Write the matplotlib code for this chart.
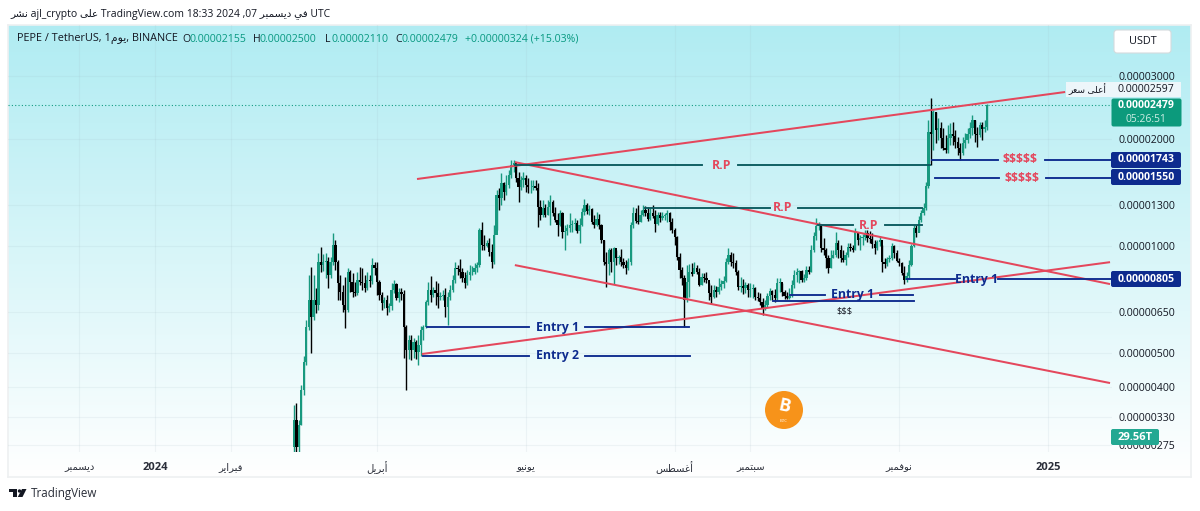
import numpy as np
import matplotlib
matplotlib.use("Agg")
import matplotlib.pyplot as plt
from matplotlib.patches import FancyBboxPatch, Circle, Polygon, Rectangle

FONT = ['Open Sans', 'DejaVu Sans']
plt.rcParams['font.family'] = FONT

# ---------- data: prices are in units of 0.00000001, time in days from 2024-01-01 ----------
first_day = 57
first_open = 271
closes = [323,271,313,392,471,590,703,630,703,681,
 899,882,899,905,827,899,1004,899,785,741,
 681,659,843,790,741,736,800,790,785,760,
 800,795,882,865,790,727,690,703,667,675,
 750,780,712,741,731,590,508,543,508,536,
 501,525,579,590,694,750,727,750,736,717,
 722,727,672,717,750,800,865,859,843,811,
 785,827,843,843,865,882,1106,1004,997,1017,
 959,899,1071,1390,1363,1501,1417,1482,1580,1684,
 1706,1550,1463,1530,1550,1482,1463,1463,1473,1454,
 1285,1221,1277,1221,1285,1328,1237,1182,1145,1237,
 1095,1102,1123,1145,1152,1160,1102,1145,1245,1302,
 1253,1269,1167,1145,1190,1145,1037,899,888,972,
 899,985,923,929,899,882,865,899,1145,1237,
 1175,1167,1221,1261,1237,1190,1237,1213,1152,1221,
 1197,1213,1221,1237,1167,1109,1060,929,854,811,
 703,790,843,832,865,843,775,816,811,800,
 736,717,750,741,765,780,795,899,941,899,
 893,843,765,770,760,775,750,755,760,717,
 712,694,667,681,722,745,727,712,785,790,
 741,722,712,722,775,827,843,848,800,811,
 854,843,972,1067,1138,1145,985,972,923,865,
 923,941,1017,972,923,911,941,991,985,972,
 1095,1037,1051,1060,1088,1051,1044,1010,985,1024,
 1037,899,888,917,923,997,953,905,893,837,
 800,821,882,997,1123,1088,1182,1237,1277,1473,
 2090,2063,2378,2117,2145,2008,1883,1859,2008,2063,
 2037,1957,1883,1823,1944,1982,2063,2145,2258,2063,
 2050,2186,2131,2155,2479]
highs = [356,361,323,406,491,618,827,871,827,760,
 953,991,947,953,929,929,1088,1037,911,827,
 775,816,865,854,837,790,843,871,865,827,
 843,827,923,899,899,800,741,717,727,690,
 785,800,785,760,760,750,598,561,561,550,
 543,561,594,598,703,790,821,765,795,785,
 741,750,760,741,775,827,899,882,917,865,
 843,854,882,876,893,899,1123,1165,1071,1037,
 1051,1010,1143,1435,1454,1600,1511,1580,1631,1741,
 1741,1706,1611,1570,1611,1580,1550,1530,1530,1530,
 1501,1345,1345,1310,1345,1390,1345,1285,1237,1261,
 1245,1145,1152,1237,1182,1197,1182,1197,1277,1352,
 1319,1302,1277,1221,1245,1229,1152,1037,959,985,
 985,991,972,941,978,923,911,923,1167,1285,
 1277,1302,1261,1302,1294,1285,1277,1302,1261,1245,
 1245,1245,1237,1261,1245,1197,1123,1067,953,871,
 827,882,888,893,899,882,865,837,837,843,
 785,775,775,770,811,800,821,923,985,959,
 953,911,854,816,805,790,785,785,780,765,
 741,736,712,703,736,760,750,755,811,811,
 785,750,741,760,800,854,865,854,854,832,
 876,876,1004,1095,1197,1167,1152,1051,985,941,
 972,972,1095,1037,1004,972,959,1017,1017,1004,
 1123,1095,1071,1081,1106,1106,1102,1088,1037,1037,
 1067,1004,923,929,941,1017,1004,972,923,899,
 876,843,911,1010,1143,1143,1213,1261,1319,1511,
 2258,2597,2408,2378,2288,2229,2145,2050,2186,2215,
 2229,2117,2024,1944,2024,2077,2145,2229,2332,2258,
 2159,2229,2229,2258,2500]
lows = [263,263,263,313,380,461,579,498,618,647,
 659,843,848,811,760,811,882,854,703,703,
 651,586,651,741,717,722,727,775,750,741,
 750,765,780,827,727,703,659,667,638,651,
 659,736,703,694,703,484,392,481,477,484,
 481,461,491,543,586,681,694,717,681,667,
 703,703,630,598,703,741,785,827,811,790,
 760,775,800,827,832,843,871,972,972,991,
 935,865,888,1106,1261,1302,1345,1390,1454,1550,
 1611,1511,1328,1435,1463,1417,1408,1408,1435,1435,
 1130,1182,1205,1205,1221,1145,1213,1167,1067,1138,
 1053,972,1074,1095,1095,1109,1088,1017,1138,1221,
 1229,1221,1152,1123,1138,1116,1017,882,765,827,
 843,780,882,888,876,865,832,854,882,1123,
 1160,1152,1167,1213,1213,1175,1182,1197,1095,1145,
 1167,1182,1182,1167,1109,1088,1004,911,811,775,
 590,694,717,821,837,832,770,775,790,785,
 703,685,712,717,731,750,760,790,888,876,
 865,827,750,741,731,736,717,717,712,703,
 699,681,638,659,672,703,703,694,703,741,
 722,708,708,708,717,760,790,785,790,790,
 800,832,843,959,1037,1109,959,941,865,837,
 865,923,929,923,899,899,882,929,966,959,
 972,1004,972,1004,1037,1024,1017,985,947,972,
 997,843,865,876,899,911,923,899,876,827,
 780,790,811,876,991,1060,1095,1167,1221,1261,
 1454,1684,1859,1944,1982,1883,1859,1823,1823,1920,
 1920,1883,1800,1743,1800,1883,1944,2008,2050,1957,
 1895,2024,1982,2090,2110]

price_ticks = [3000, 2000, 1300, 1000, 650, 500, 400, 330, 275]
time_ticks = [-31, 0, 31, 91, 152, 213, 244, 305, 366]
# Arabic is given in shaped presentation forms, visual order
DEC = "\uFEAE\uFE92\uFEE4\uFEB4\uFEF3\uFEA9"
FEB = "\uFEAE\uFEF3\uFE8D\uFEAE\uFE92\uFED3"
APR = "\uFEDE\uFEF3\uFEAE\uFE91\uFE83"
JUN = "\uFEEE\uFEF4\uFEE7\uFEEE\uFEF3"
AUG = "\uFEB2\uFEC4\uFEB4\uFECF\uFE83"
SEP = "\uFEAE\uFE92\uFEE4\uFE98\uFE92\uFEB3"
NOV = "\uFEAE\uFE92\uFEE4\uFED3\uFEEE\uFEE7"
DAY = "\uFEE1\uFEEE\uFEF3"
HIGHEST = "\uFEAE\uFECC\uFEB3 \uFEF0\uFEE0\uFECB\uFE83"
PUB = "\uFEAE\uFEB8\uFEE7"
ON = "\uFEF0\uFEE0\uFECB"
IN = "\uFEF2\uFED3"
time_labels = [DEC, "2024", FEB, APR, JUN, AUG, SEP, NOV, "2025"]

# trend lines: (day, price) end points
trend_days = [[107.4, 373.0], [147.5, 391.4], [147.5, 391.4], [109.4, 391.4]]
trend_prices = [[1540, 2705], [1718, 780], [882, 411], [496, 899]]
# horizontal levels: price, then segments (days) left and right of the label
rp_prices = [1684, 1277, 1143]
rp_days = [[147.5, 224.2, 238.9, 317.6], [200.8, 252.0, 263.5, 314.3], [271.7, 286.1, 299.2, 314.3]]
rp_label_days = [232.4, 257.4, 292.6]
entry_prices = [590, 491, 727, 805, 1743, 1550]
entry_days = [[111.5, 153.3, 176.2, 218.9], [109.8, 153.3, 176.2, 219.3], [260.2, 274.6, 297.1, 310.7],
              [308.2, 327.9, 345.5, 392.0], [318.4, 345.5, 364.8, 392.0], [319.7, 345.9, 365.2, 392.0]]
entry_labels = ["Entry 1", "Entry 2", "Entry 1", "Entry 1", "$$$$$", "$$$$$"]
entry_label_days = [164.8, 164.8, 285.7, 336.5, 354.5, 355.3]
second_price = 699
second_days = [253.3, 311.1]
last_close = 2479

RED = '#e4475c'
NAVY = '#0d2b8e'
RPC = '#0a5a5e'
UP = '#18997f'
DOWN = '#000000'
W, H = 1200, 511

fig = plt.figure(figsize=(W / 100, H / 100), dpi=100, facecolor='white')

# gradient pane
bg = fig.add_axes([8 / W, 1 - 477 / H, (1191 - 8) / W, (477 - 25) / H])
grad = np.linspace(0, 1, 256)[:, None]
c_top = np.array([0.69, 0.925, 0.95])
c_bot = np.array([1.0, 1.0, 1.0])
bg.imshow((c_top + (c_bot - c_top) * grad)[:, None, :].reshape(256, 1, 3), aspect='auto')
bg.set_xticks([]); bg.set_yticks([])
for s in bg.spines.values():
    s.set_color('#eef0f1'); s.set_linewidth(1.2)

# main chart axes
ax = fig.add_axes([8 / W, 1 - 452 / H, (1112 - 8) / W, (452 - 25) / H], facecolor='none')
ax.set_yscale('log')
ax.set_xlim(-60.2, 392.2)
ax.set_ylim(263, 4174)
ax.minorticks_off()
ax.yaxis.tick_right()
ax.set_yticks(price_ticks)
ax.set_yticklabels([f"{p * 1e-8:.8f}" for p in price_ticks], fontsize=7.6, color='#131722')
ax.set_xticks(time_ticks)
ax.set_xticklabels(time_labels, fontsize=7.2, color='#2a2e39')
for lab, txt in zip(ax.get_xticklabels(), time_labels):
    if txt in ("2024", "2025"):
        lab.set_fontweight('bold')
        lab.set_fontsize(8)
ax.tick_params(axis='both', length=0)
ax.tick_params(axis='y', pad=4.5)
ax.tick_params(axis='x', pad=7)
ax.grid(True, color='#9fb6c0', alpha=0.13, linewidth=0.8)
ax.set_axisbelow(True)
for s in ax.spines.values():
    s.set_visible(False)

# candles
c = np.array(closes, float)
o = np.array([first_open] + closes[:-1], float)
hi = np.array(highs, float)
lo = np.array(lows, float)
x = first_day + np.arange(len(c))
up = c >= o
ax.vlines(x[up], lo[up], hi[up], color=UP, lw=1.0, zorder=3)
ax.vlines(x[~up], lo[~up], hi[~up], color=DOWN, lw=1.0, zorder=3)
ax.bar(x[up], (c - o)[up], bottom=o[up], width=0.92, color=UP, linewidth=0, zorder=4)
ax.bar(x[~up], (o - c)[~up], bottom=c[~up], width=0.92, color=DOWN, linewidth=0, zorder=4)

# last price dotted line
ax.axhline(last_close, color='#159c82', lw=0.8, ls=(0, (1, 2)), zorder=2)

# trend lines
for td, tp in zip(trend_days, trend_prices):
    ax.plot(td, tp, color=RED, lw=1.45, solid_capstyle='butt', zorder=5)

# R.P levels
for p, seg, lx in zip(rp_prices, rp_days, rp_label_days):
    ax.plot(seg[:2], [p, p], color=RPC, lw=1.35, zorder=6)
    ax.plot(seg[2:], [p, p], color=RPC, lw=1.35, zorder=6)
    ax.text(lx, p, "R.P", color=RED, fontsize=8.8, fontweight='bold', ha='center', va='center', zorder=7)

# entry / $ levels
for p, seg, lab, lx in zip(entry_prices, entry_days, entry_labels, entry_label_days):
    ax.plot(seg[:2], [p, p], color=NAVY, lw=1.35, zorder=6)
    ax.plot(seg[2:], [p, p], color=NAVY, lw=1.35, zorder=6)
    col = RED if lab.startswith('$') else NAVY
    ax.text(lx, p, lab, color=col, fontsize=8.8, fontweight='bold', ha='center', va='center', zorder=8)
ax.plot(second_days, [second_price, second_price], color=NAVY, lw=1.35, zorder=6)
ax.text(282.4, 655, "$$$", color='#131722', fontsize=6.8, ha='center', va='center', zorder=8)

# interface overlay in pixel coordinates
ui = fig.add_axes([0, 0, 1, 1], facecolor='none')
ui.set_xlim(0, W); ui.set_ylim(H, 0); ui.axis('off')


def tag(x0, y0, x1, y1, col, text, tcol='white', size=7.6, weight='normal', x_text=None):
    ui.add_patch(FancyBboxPatch((x0 + 1, y0 + 1), x1 - x0 - 2, y1 - y0 - 2,
                                boxstyle='round,pad=1,rounding_size=2', fc=col, ec='none', zorder=10))
    ui.text(x_text if x_text else (x0 + x1) / 2, (y0 + y1) / 2, text, color=tcol, fontsize=size,
            fontweight=weight, ha='center', va='center', zorder=11)


# headline
ui.text(10, 14, f"{PUB} ajl_crypto {ON} TradingView.com 18:33 2024 ,07 {DEC} {IN} UTC",
        fontsize=7.5, color='#131722', va='center', ha='left')
ui.text(17, 39, f"PEPE / TetherUS, 1{DAY}, BINANCE", fontsize=7.8, color='#131722', va='center', ha='left')
for px, lab, val in [(182, "O", "0.00002155"), (253, "H", "0.00002500"), (325, "L", "0.00002110"), (395, "C", "0.00002479")]:
    ui.text(px, 39, lab, fontsize=7.6, color='#131722', va='center', ha='left')
    ui.text(px + 7, 39, val, fontsize=7.6, color='#089981', va='center', ha='left')
ui.text(465, 39, "+0.00000324 (+15.03%)", fontsize=7.6, color='#089981', va='center', ha='left')

# USDT button
ui.add_patch(FancyBboxPatch((1115, 31), 55, 21, boxstyle='round,pad=1,rounding_size=3', fc='white', ec='#d5dbdd', lw=0.8, zorder=10))
ui.text(1143, 41.5, "USDT", fontsize=7.8, color='#131722', ha='center', va='center', zorder=11)

# price tags
ui.add_patch(Rectangle((1066, 82), 42, 15, fc='#edf6fa', ec='none', zorder=10))
ui.text(1087, 89, HIGHEST, fontsize=6.6, color='#131722', ha='center', va='center', zorder=11)
ui.add_patch(Rectangle((1108, 82), 73, 15, fc='#edf6fa', ec='none', zorder=10))
ui.text(1146, 89, "0.00002597", fontsize=7.6, color='#131722', ha='center', va='center', zorder=11)
ui.add_patch(FancyBboxPatch((1112, 99), 69, 27, boxstyle='round,pad=0.5,rounding_size=2', fc='#0c9a7c', ec='none', zorder=10))
ui.text(1146, 106, "0.00002479", fontsize=7.6, color='white', fontweight='bold', ha='center', va='center', zorder=11)
ui.text(1146, 119, "05:26:51", fontsize=7.4, color='#cdeee5', ha='center', va='center', zorder=11)
tag(1111, 152, 1181, 168, '#0d2b8e', "0.00001743", weight='bold')
tag(1111, 169, 1181, 185, '#0d2b8e', "0.00001550", weight='bold')
tag(1111, 271, 1181, 287, '#0d2b8e', "0.00000805", weight='bold')
tag(1111, 429, 1159, 445, '#23a892', "29.56T", size=8, weight='bold')

# BTC badge
ui.add_patch(Circle((784, 410), 19, fc='#f7931a', ec='none', zorder=6))
ui.text(784, 406, "B", fontsize=13, fontweight='bold', color='white', ha='center', va='center', rotation=-12, zorder=7)
ui.text(784, 421.5, "BTC", fontsize=3.2, color='white', ha='center', va='center', zorder=7)

# TradingView mark
ui.add_patch(Polygon([(9, 489), (17, 489), (17, 497), (13, 497), (13, 492.5), (9, 492.5)], fc='#131722', ec='none'))
ui.add_patch(Circle((19.5, 491), 1.7, fc='#131722', ec='none'))
ui.add_patch(Polygon([(22, 489), (26.5, 489), (22.5, 497), (17.8, 497)], fc='#131722', ec='none'))
ui.text(31, 493.5, "TradingView", fontsize=8.4, color='#2a2e39', ha='left', va='center')

fig.savefig("out.png", dpi=100, facecolor='white')
